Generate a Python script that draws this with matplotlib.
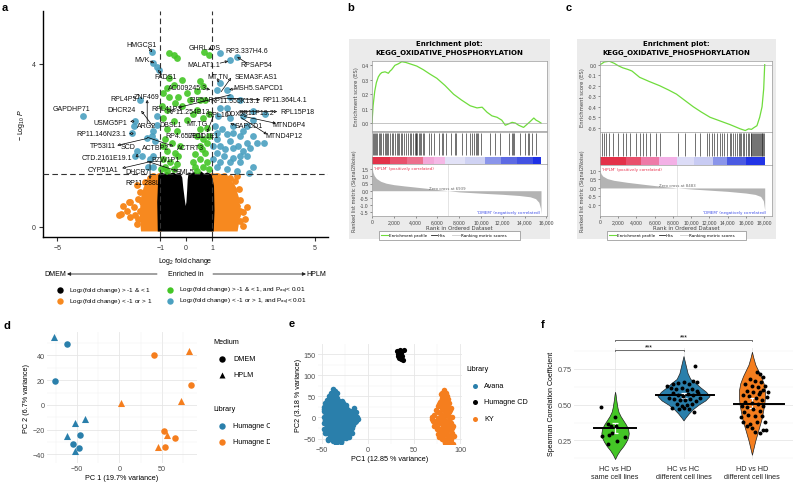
import matplotlib
matplotlib.use('Agg')
import matplotlib.pyplot as plt
from matplotlib.patches import Rectangle

plt.rcParams['font.family'] = ['Liberation Sans', 'DejaVu Sans']
plt.rcParams['mathtext.fontset'] = 'custom'
plt.rcParams['mathtext.rm'] = 'Liberation Sans'
plt.rcParams['mathtext.it'] = 'Liberation Sans:italic'

W, H = 794, 485
fig = plt.figure(figsize=(W / 100, H / 100), dpi=100)


def px_axes(x0, y0, x1, y1, **kw):
    return fig.add_axes([x0 / W, 1 - y1 / H, (x1 - x0) / W, (y1 - y0) / H], **kw)


# ---------------- panel a : volcano ----------------
black_x = [-1.06, -1.08, -1.04, -0.95, -0.85, -0.75, -0.62, -0.5, -0.38, -0.26, -0.19, -0.15, -0.1, -0.05,
           0.0, 0.05, 0.08, 0.1, 0.13, 0.2, 0.32, 0.45, 0.58, 0.7, 0.82, 0.95, 1.04, 1.06, 1.03]
black_y = [-0.09, 0.6, 1.26, 1.31, 1.27, 1.32, 1.28, 1.31, 1.26, 1.3, 1.2, 0.95, 0.7, 0.48,
           0.42, 0.6, 0.9, 1.15, 1.3, 1.27, 1.32, 1.28, 1.33, 1.27, 1.31, 1.27, 1.0, 0.4, -0.09]

orange_core_l_x = [-1.0, -1.7, -1.75, -1.7, -1.6, -1.45, -1.2, -1.0]
orange_core_l_y = [-0.08, -0.08, 0.3, 0.7, 0.95, 1.15, 1.25, 1.28]
orange_core_r_x = [1.0, 1.95, 2.05, 2.0, 1.85, 1.6, 1.3, 1.0]
orange_core_r_y = [-0.08, -0.08, 0.3, 0.7, 1.0, 1.2, 1.27, 1.28]

orange_x = [-2.62, -2.53, -2.17, -1.91, -1.78, -1.59, -1.46, -1.40, -1.27, -1.20, -1.65, -1.98, -2.30, -1.52,
            -1.33, -1.14, -1.72, -1.46, -1.20, -1.14, -1.78, -2.04, -2.23, -1.46, -1.59, -1.07, -1.40, -1.91,
            -2.17, -1.85, -1.27, -2.43, -1.85, -1.40, -1.14, -1.46,
            2.22, 2.35, 2.03, 1.90, 1.71, 1.45, 1.19, 1.64, 1.38, 1.19, 1.83, 1.58, 1.25, 1.96, 1.71, 1.38,
            1.12, 1.58, 1.12, 1.12, 1.45, 2.09, 1.77, 1.38, 1.96, 2.09, 2.28, 2.22, 1.83, 1.06, 1.58, 1.83,
            1.96, 1.71, 2.09]
orange_y = [0.30, 0.32, 0.62, 1.02, 0.40, 0.76, 1.09, 0.15, 1.25, 0.60, 0.11, 0.28, 0.40, 0.48,
            0.93, 1.09, 0.60, 0.32, 0.03, 0.28, 0.85, 0.48, 0.60, 0.03, 1.09, 1.25, 1.21, 0.07,
            0.24, 0.20, 0.76, 0.52, 0.69, 0.69, 0.93, 0.95,
            0.36, 0.48, 0.93, 1.13, 1.21, 1.25, 1.25, 1.01, 0.85, 1.01, 0.69, 0.60, 0.52, 0.28, 0.20, 0.11,
            0.03, 0.03, 0.69, 0.28, 0.36, 0.65, 0.44, 1.09, 0.52, 0.15, 0.20, 0.03, 0.03, 0.93, 0.85, 0.93,
            1.25, 0.77, 0.40]

green_x = [-0.68, -0.47, -0.36, 0.70, 0.87, 0.54, 0.67, -0.68, -0.49, -0.17, -0.88, -0.68, -0.30, 0.03,
           0.41, 0.74, -0.43, -0.17, 0.41, -0.75, -0.88, -0.49, 0.03, 0.67, 0.87, -0.75, -0.36, 0.54, 0.80,
           0.41, -0.81, -0.56, -0.22, 0.54, 0.80, -0.75, -0.43, 0.35, 0.74, -0.88, -0.62, -0.36, 0.28, 0.54,
           0.80, -0.81, -0.49, 0.35, 0.67, 0.87, -0.96, -0.75, 0.41, -0.94, -0.75, 0.54, 0.16, 0.28, -0.88,
           0.87, 0.67, -0.30, 0.60]
green_y = [4.26, 4.22, 4.14, 4.30, 4.22, 3.57, 3.45, 3.65, 3.49, 3.61, 3.28, 3.20, 3.20, 3.28,
           3.33, 3.12, 3.04, 2.96, 2.88, 2.88, 2.67, 2.59, 2.63, 2.67, 2.76, 2.39, 2.35, 2.39, 2.43,
           2.23, 2.15, 2.07, 1.98, 1.98, 2.07, 1.86, 1.82, 1.78, 1.82, 1.66, 1.58, 1.54, 1.58, 1.66,
           1.58, 1.46, 1.41, 1.46, 1.46, 1.41, 1.41, 1.37, 1.37, 2.96, 3.41, 3.12, 3.12, 2.76, 1.98,
           2.23, 2.15, 1.75, 1.90]

blue_x = [-1.33, -1.27, -1.07, -1.14, -4.0, -1.78, -1.98, -2.04, -2.11, -1.91, -1.98, -1.40, -1.27, -1.52,
          -1.33, -1.20, -1.14, -1.14, -1.27, -1.46, -1.72, -1.27,
          1.32, 1.71, 1.96, 1.32, 1.19, 1.58, 1.71, 2.09, 2.61, 3.06, 1.58, 1.32, 1.25, 1.71, 2.22, 2.61,
          2.35, 1.83, 1.38, 1.19, 1.58, 2.09, 2.61, 2.74, 3.0, 1.19, 1.71, 2.35, 1.32, 1.83, 2.22, 1.19,
          1.45, 1.83, 2.35, 1.32, 1.71, 2.09, 2.61, 1.19, 1.58, 1.96, 2.42, 1.06, 1.06, 1.12, 2.02, 1.51,
          1.83, 2.22, 2.48, 2.09]
blue_y = [4.30, 4.03, 3.85, 3.93, 2.73, 3.11, 2.59, 2.47, 2.31, 1.86, 1.74, 1.66, 1.74, 2.19,
          2.23, 2.11, 2.72, 2.51, 2.35, 1.46, 1.74, 1.46,
          4.26, 4.10, 4.16, 3.53, 3.37, 3.37, 3.20, 3.12, 2.84, 2.76, 2.92, 2.92, 2.72, 2.67, 2.72, 2.63,
          2.47, 2.47, 2.39, 2.31, 2.27, 2.23, 2.23, 2.07, 2.07, 2.15, 2.11, 2.07, 1.98, 1.94, 1.86, 1.82,
          1.74, 1.70, 1.74, 1.58, 1.58, 1.58, 1.46, 1.46, 1.41, 1.37, 1.33, 1.98, 1.66, 2.47, 1.98, 1.90,
          2.31, 2.35, 1.94, 1.74]

gene_labels = ['HMGCS1', 'MVK', 'FADS1', 'GHRL.OS', 'RP3.337H4.6', 'MALAT1.1', 'RPSAP54', 'MT.TN',
               'SEMA3F.AS1', 'AC009245.3', 'MSH5.SAPCD1', 'EIF5AP', 'RP11.555K13.1', 'RP11.364L4.1',
               'RPL15P18', 'RPL10', 'DDX23', 'RP11P19.2', 'MTND6P4', 'SAPCD1', 'MTND4P12', 'MT.TG',
               'RP4.657E11', 'LPCD1E1', 'ACTRT3', 'ACTBP2', 'SCD', 'TP53I11', 'DBSL1', 'RP11.254B13',
               'RPL41P3', 'ARG2', 'DHCR24', 'USMG5P1', 'RP11.146N23.1', 'CTD.2161E19.1', 'CYP51A1',
               'DHCR7', 'BZW1P1', 'EML5', 'RPL4P5', 'ZNF469', 'GAPDHP71']
gene_x = [-1.72, -1.72, -0.81, 0.70, 2.36, 0.70, 2.71, 1.23, 2.71, 0.07, 2.80, 0.58, 1.90, 3.84,
          4.33, 1.24, 1.97, 2.70, 4.0, 2.41, 3.81, 0.44, -0.04, 0.67, 0.16, -1.20, -2.24, -3.21,
          -0.62, 0.07, -0.75, -1.52, -2.49, -2.95, -3.27, -3.07, -3.21, -1.89, -0.81, -0.04, -2.43,
          -1.52, -4.43]
gene_y = [4.48, 4.11, 3.68, 4.40, 4.34, 3.99, 3.98, 3.69, 3.69, 3.41, 3.41, 3.12, 3.10, 3.12,
          2.82, 2.77, 2.78, 2.80, 2.51, 2.49, 2.24, 2.53, 2.24, 2.24, 1.96, 1.96, 1.98, 2.0,
          2.51, 2.82, 2.90, 2.49, 2.88, 2.57, 2.29, 1.70, 1.40, 1.37, 1.66, 1.37, 3.14, 3.20, 2.90]

# label segments: start -> arrow head
seg_x0 = [-1.47, -1.40, -0.93, 0.89, 1.32, 2.36, 1.24, 1.36, 0.78, 1.94, 1.12, 2.09, 2.25, 2.13, 1.94,
          1.71, -1.28, -2.02, -2.05, -1.51, -1.51, -1.90, -1.32, -1.40, -1.51, -1.51, 1.05]
seg_y0 = [4.41, 4.07, 3.73, 4.39, 4.02, 4.02, 3.63, 3.32, 3.39, 3.39, 3.17, 2.83, 2.71, 2.68, 2.49,
          3.24, 2.46, 2.59, 2.29, 2.17, 2.20, 1.71, 1.61, 1.61, 1.61, 2.54, 2.71]
seg_x1 = [-1.32, -1.24, -1.09, 1.01, 1.63, 1.98, 1.24, 1.74, 0.93, 1.67, 2.87, 3.53, 3.49, 3.14, 1.71,
          -0.31, -1.74, -2.17, -2.21, -2.67, -0.50, -1.90, -2.48, -1.40, -0.35, -1.51, 0.81]
seg_y1 = [4.29, 4.02, 3.85, 4.34, 4.07, 4.17, 3.54, 3.66, 3.37, 3.37, 3.12, 2.83, 2.54, 2.27, 2.54,
          2.93, 2.85, 2.59, 2.29, 2.00, 1.98, 1.80, 1.44, 1.17, 1.37, 3.12, 2.32]

c_black, c_orange, c_green, c_blue = 'black', '#f7891f', '#44c626', '#4aa0c0'

ax = px_axes(43, 12, 328, 238)
ax.fill(orange_core_l_x, orange_core_l_y, color=c_orange, lw=2, zorder=2)
ax.fill(orange_core_r_x, orange_core_r_y, color=c_orange, lw=2, zorder=2)
ax.scatter(orange_x, orange_y, s=24, color=c_orange, lw=0, zorder=2)
ax.text(-1.5, 1.10, 'RP11.288L9.1', fontsize=5, ha='center', va='center', zorder=2.6)
ax.fill(black_x, black_y, color=c_black, ec='black', lw=1.5, zorder=3)
ax.scatter(green_x, green_y, s=24, color=c_green, lw=0, alpha=0.9, zorder=4)
ax.scatter(blue_x, blue_y, s=24, color=c_blue, lw=0, alpha=0.9, zorder=4)
ax.axvline(-1, color='#333333', lw=0.8, ls=(0, (5, 3)), zorder=5)
ax.axvline(1, color='#333333', lw=0.8, ls=(0, (5, 3)), zorder=5)
ax.axhline(1.3, color='#333333', lw=0.8, ls=(0, (5, 3)), zorder=5)
for x0, y0, x1, y1 in zip(seg_x0, seg_y0, seg_x1, seg_y1):
    ax.annotate('', xy=(x1, y1), xytext=(x0, y0), zorder=6,
                arrowprops=dict(arrowstyle='-|>', lw=0.5, color='black', fc='white',
                                shrinkA=0, shrinkB=0, mutation_scale=4))
for name, x, y in zip(gene_labels, gene_x, gene_y):
    ax.text(x, y, name, fontsize=5, ha='center', va='center', color='#111111', zorder=7)
ax.set_xlim(-5.55, 5.5)
ax.set_ylim(-0.25, 5.3)
ax.set_xticks([-5, -1, 0, 1, 5])
ax.set_yticks([0, 4])
ax.tick_params(labelsize=5, length=3, width=0.8, colors='#333333', pad=2)
for s in ['top', 'right']:
    ax.spines[s].set_visible(False)
for s in ['left', 'bottom']:
    ax.spines[s].set_linewidth(1.0)
ax.set_xlabel('Log$_2$ fold change', fontsize=5, labelpad=3)
ax.set_ylabel('$-$ Log$_{10}$ $P$', fontsize=5, labelpad=4)

# ---------------- panels b, c : GSEA ----------------
b_es_rank = [0, 100, 250, 400, 580, 750, 900, 1200, 1500, 1650, 1800, 2100, 2400, 2730, 3100, 3500, 4100,
             4700, 5300, 5950, 6700, 7480, 8200, 9000, 9630, 10100, 10550, 11000, 11470, 11900, 12230,
             12550, 12850, 13150, 13450, 13900, 14200, 14500, 14840, 15050, 15300, 15500]
b_es = [0.0, 0.12, 0.22, 0.28, 0.32, 0.34, 0.35, 0.355, 0.345, 0.36, 0.37, 0.40, 0.41, 0.425, 0.42, 0.41,
        0.395, 0.37, 0.34, 0.31, 0.26, 0.20, 0.16, 0.12, 0.105, 0.11, 0.075, 0.05, 0.04, 0.02, -0.015,
        -0.005, 0.005, 0.0, -0.015, -0.03, -0.01, 0.01, 0.035, 0.02, 0.01, 0.0]
b_hits = [60, 150, 250, 380, 450, 600, 700, 850, 1000, 1150, 1250, 1400, 1500, 1650, 1800, 1950, 2100,
          2250, 2400, 2500, 2650, 2750, 2900, 3100, 3300, 3450, 3600, 3750, 3900, 4000, 4050, 4150, 4300,
          4400, 4500, 4650, 4750, 5200, 5400, 5700, 6100, 6400, 6500, 6800, 7200, 7600, 7700, 8300, 8600,
          9000, 9200, 9400, 9500, 9600, 9700, 10000, 10800, 11300, 11700, 12600, 12800, 12900, 13000,
          13600, 14000, 14300, 14400, 14700, 15000]
b_metric_rank = [0, 80, 200, 400, 800, 1300, 2000, 3000, 4000, 5000, 6000, 6939, 8000, 10000, 12000,
                 13500, 14500, 15000, 15300, 15450, 15500]
b_metric = [1.7, 1.3, 1.05, 0.85, 0.65, 0.52, 0.42, 0.33, 0.25, 0.17, 0.08, 0.0, -0.08, -0.17, -0.25,
            -0.33, -0.42, -0.55, -0.8, -1.2, -1.6]
b_bar_edges = [0, 1650, 3200, 4700, 5700, 6700, 8500, 10400, 11800, 13300, 14800, 15500]
b_bar_colors = ['#e33149', '#e8506c', '#ec6f8c', '#f3a7d8', '#f5b8e6', '#e2e2f7', '#cfd2f3', '#8a95ea',
                '#5d6ae3', '#4252e2', '#1f31e6']

c_es_rank = [0, 200, 480, 1030, 1580, 2000, 2500, 3050, 3500, 4340, 5400, 6540, 7500, 8380, 9300, 10220,
             11100, 12060, 13160, 14260, 15370, 15920, 16290, 16600, 16840, 17200, 17500, 17760, 17940,
             18050]
c_es = [0.0, 0.01, 0.026, 0.033, 0.012, -0.01, -0.03, -0.045, -0.06, -0.12, -0.16, -0.20, -0.24, -0.28,
        -0.34, -0.40, -0.45, -0.50, -0.535, -0.57, -0.61, -0.626, -0.61, -0.615, -0.60, -0.58, -0.50, -0.40,
        -0.23, 0.0]
c_hits = [220, 480, 660, 1030, 1400, 1950, 2500, 2800, 3240, 3970, 4340, 4700, 5000, 5440, 6170, 6540,
          8570, 9300, 10400, 10960, 11700, 12000, 12300, 12500, 12800, 13100, 13400, 13600, 13900, 14200,
          14400, 14600, 14800, 15000, 15200, 15300, 15500, 15700, 15800, 16000, 16200, 16300, 16500,
          16600, 16700, 16800, 16900, 17000, 17100, 17200, 17300, 17400, 17500, 17600, 17700, 17800,
          17900, 18000]
c_metric_rank = [0, 100, 300, 800, 1500, 3000, 5000, 7000, 8483, 10000, 12000, 14000, 16000, 17000,
                 17600, 17900, 18050]
c_metric = [1.05, 0.85, 0.7, 0.55, 0.45, 0.33, 0.2, 0.08, 0.0, -0.06, -0.13, -0.2, -0.3, -0.38, -0.5,
            -0.75, -1.3]
c_bar_edges = [0, 2900, 4500, 6500, 8400, 10300, 12400, 13900, 16000, 18100]
c_bar_colors = ['#e33149', '#e8506c', '#ee7aa8', '#f3b0e6', '#dcdcf7', '#c8cbf3', '#8a95ea', '#4a5ae2',
                '#2234e6']

bg = fig.add_axes([0, 0, 1, 1], zorder=-5)
bg.set_xlim(0, W)
bg.set_ylim(H, 0)
bg.axis('off')

ov = fig.add_axes([0, 0, 1, 1], zorder=20)
ov.set_xlim(0, W)
ov.set_ylim(H, 0)
ov.axis('off')
ov.patch.set_alpha(0)

gsea_font = ['DejaVu Sans']


def gsea_panel(box, es_box, hit_box, met_box, es_rank, es, hits, m_rank, m, edges, colors,
               xmax, es_lim, es_ticks, m_lim, m_ticks, x_ticks, zero_rank, cross_text):
    bx0, by0, bx1, by1 = box
    bg.add_patch(Rectangle((bx0, by0), bx1 - bx0, by1 - by0, color='#ebebeb', lw=0))
    cx = (bx0 + bx1) / 2
    ov.text(cx, 44, 'Enrichment plot:', fontsize=5.0, fontweight='bold', ha='center', va='center',
            family=gsea_font)
    ov.text(cx, 53, 'KEGG_OXIDATIVE_PHOSPHORYLATION', fontsize=5.0, fontweight='bold', ha='center',
            va='center', family=gsea_font)

    a1 = px_axes(*es_box)
    a1.plot(es_rank, es, color='#6fdc3c', lw=0.9)
    a1.axhline(0, color='#9a9a9a', lw=0.4)
    a1.set_xlim(0, xmax)
    a1.set_ylim(*es_lim)
    a1.set_yticks(es_ticks)
    a1.set_yticklabels(['%.1f' % t for t in es_ticks])
    a1.set_xticks([])
    a1.tick_params(labelsize=3.6, length=1.5, width=0.4, pad=1, colors='#444444')
    for s in a1.spines.values():
        s.set_color('#9a9a9a')
        s.set_linewidth(0.5)
    a1.set_ylabel('Enrichment score (ES)', fontsize=3.8, labelpad=2, family=gsea_font, color='#444444')

    a2 = px_axes(*hit_box)
    a2.vlines(hits, 0.27, 0.97, color='#222222', lw=0.45)
    for i, col in enumerate(colors):
        a2.add_patch(Rectangle((edges[i], 0.0), edges[i + 1] - edges[i], 0.23, color=col, lw=0))
    a2.set_xlim(0, xmax)
    a2.set_ylim(0, 1)
    a2.set_xticks([])
    a2.set_yticks([])
    for s in a2.spines.values():
        s.set_color('#9a9a9a')
        s.set_linewidth(0.5)

    a3 = px_axes(*met_box)
    a3.fill_between(m_rank, m, 0, color='#b3b3b3', lw=0)
    a3.axvline(zero_rank, color='#cfcfcf', lw=0.4)
    a3.set_xlim(0, xmax)
    a3.set_ylim(*m_lim)
    a3.set_yticks(m_ticks)
    a3.set_yticklabels(['%.1f' % t for t in m_ticks])
    a3.set_xticks(x_ticks)
    a3.set_xticklabels(['{:,}'.format(t) for t in x_ticks])
    a3.tick_params(labelsize=3.6, length=1.5, width=0.4, pad=1, colors='#444444')
    for s in a3.spines.values():
        s.set_color('#9a9a9a')
        s.set_linewidth(0.5)
    a3.set_xlabel('Rank in Ordered Dataset', fontsize=3.9, labelpad=0.5, family=gsea_font, color='#444444')
    a3.set_ylabel('Ranked list metric (Signal2Noise)', fontsize=3.5, labelpad=2, family=gsea_font,
                  color='#444444')
    a3.text(0.01, 0.97, "'HPLM' (positively correlated)", transform=a3.transAxes, fontsize=3.0,
            color='#e8334f', va='top', family=gsea_font)
    a3.text(zero_rank, 0.03, cross_text, fontsize=2.8, color='#666666', ha='center', va='bottom',
            family=gsea_font)
    a3.text(0.6, 0.08, "'DMEM' (negatively correlated)", transform=a3.transAxes, fontsize=3.0,
            color='#4050e8', va='center', family=gsea_font)

    # legend box
    lx0, lx1, ly = bx0 + 30, bx1 - 30, 236
    bg.add_patch(Rectangle((lx0, ly - 4.5), lx1 - lx0, 9, fc='white', ec='#8a8a8a', lw=0.5))
    ov.plot([lx0 + 2, lx0 + 9], [ly, ly], color='#6fdc3c', lw=0.8)
    ov.text(lx0 + 10, ly, 'Enrichment profile', fontsize=3.0, va='center', family=gsea_font)
    ov.plot([lx0 + 52, lx0 + 58], [ly, ly], color='#222222', lw=0.6)
    ov.text(lx0 + 59, ly, 'Hits', fontsize=3.0, va='center', family=gsea_font)
    ov.plot([lx0 + 73, lx0 + 81], [ly, ly], color='#cccccc', lw=0.6)
    ov.text(lx0 + 82, ly, 'Ranking metric scores', fontsize=3.0, va='center', family=gsea_font)


gsea_panel((349, 40, 550, 240), (372, 62, 547, 132), (372, 133, 547, 165), (372, 165, 547, 217),
           b_es_rank, b_es, b_hits, b_metric_rank, b_metric, b_bar_edges, b_bar_colors,
           16050, (-0.055, 0.43), [0.0, 0.1, 0.2, 0.3, 0.4], (-1.75, 1.85),
           [1.5, 1.0, 0.5, 0.0, -0.5, -1.0, -1.5], list(range(0, 16001, 2000)), 6939, 'Zero cross at 6939')
gsea_panel((577, 40, 776, 240), (600, 62, 772, 133), (600, 133, 772, 166), (600, 166, 772, 217),
           c_es_rank, c_es, c_hits, c_metric_rank, c_metric, c_bar_edges, c_bar_colors,
           18850, (-0.64, 0.035), [0.0, -0.1, -0.2, -0.3, -0.4, -0.5, -0.6], (-1.65, 1.35),
           [1.0, 0.5, 0.0, -0.5, -1.0], list(range(0, 18001, 2000)), 8483, 'Zero cross at 8483')

# ---------------- volcano caption / legend ----------------
ov.text(55, 275, 'DMEM', fontsize=5, ha='center', va='center')
ov.annotate('', xy=(67, 275), xytext=(157, 275),
            arrowprops=dict(arrowstyle='-|>', lw=0.6, color='#222222', mutation_scale=5, shrinkA=0, shrinkB=0))
ov.text(186, 275, 'Enriched in', fontsize=5, ha='center', va='center')
ov.annotate('', xy=(306, 275), xytext=(213, 275),
            arrowprops=dict(arrowstyle='-|>', lw=0.6, color='#222222', mutation_scale=5, shrinkA=0, shrinkB=0))
ov.text(316, 275, 'HPLM', fontsize=5, ha='center', va='center')
legend_text = ['Log$_2$(fold change) > -1 & < 1', 'Log$_2$(fold change) > -1 & < 1, and P$_{adj}$< 0.01',
               'Log$_2$(fold change) < -1 or > 1', 'Log$_2$(fold change) < -1 or > 1, and P$_{adj}$< 0.01']
legend_cols = [c_black, c_green, c_orange, c_blue]
for i, (t, col) in enumerate(zip(legend_text, legend_cols)):
    lx = 60 if i % 2 == 0 else 170
    ly = 291 if i < 2 else 302
    ov.plot([lx], [ly], 'o', ms=4.6, color=col, mec='none')
    ov.text(lx + 9, ly, t, fontsize=4.6, va='center')

# ---------------- panel d : PCA ----------------
grid_major = '#e6e6e6'
grid_minor = '#f2f2f2'
c_blue2, c_orange2 = '#2a7fab', '#f57e1e'

d_circle_c_x = [-62, -76, -46, -55, -47]
d_circle_c_y = [49, 19, -24, -32, -35]
d_tri_c_x = [-77, -40, -52, -61, -52]
d_tri_c_y = [55, -11, -15, -25, -37]
d_circle_d_x = [40, 84, 52, 65, 53]
d_circle_d_y = [40, 16, -21, -27, -34]
d_tri_d_x = [82, 72, 2, 56, 45]
d_tri_d_y = [44, 3, 1.5, -24, -34]


def minimal(a, xmaj, xmin, ymaj, ymin):
    a.set_xticks(xmaj)
    a.set_xticks(xmin, minor=True)
    a.set_yticks(ymaj)
    a.set_yticks(ymin, minor=True)
    a.grid(True, which='major', color=grid_major, lw=0.6)
    a.grid(True, which='minor', color=grid_minor, lw=0.35)
    a.set_axisbelow(True)
    for s in a.spines.values():
        s.set_visible(False)
    a.tick_params(which='both', length=0, labelsize=5.2, colors='#4d4d4d', pad=1.5)


axd = px_axes(47, 333, 197, 464)
axd.scatter(d_circle_c_x, d_circle_c_y, s=22, color=c_blue2, marker='o', lw=0)
axd.scatter(d_tri_c_x, d_tri_c_y, s=26, color=c_blue2, marker='^', lw=0)
axd.scatter(d_circle_d_x, d_circle_d_y, s=22, color=c_orange2, marker='o', lw=0)
axd.scatter(d_tri_d_x, d_tri_d_y, s=26, color=c_orange2, marker='^', lw=0)
axd.set_xlim(-85, 91)
axd.set_ylim(-47, 59)
minimal(axd, [-50, 0, 50], [-75, -25, 25, 75], [-40, -20, 0, 20, 40], [-30, -10, 10, 30, 50])
axd.set_xlabel('PC 1 (19.7% variance)', fontsize=5.2, labelpad=1.5)
axd.set_ylabel('PC 2 (6.7% variance)', fontsize=5.2, labelpad=1.5)

legd = px_axes(205, 333, 270, 455)
legd.set_xlim(205, 270)
legd.set_ylim(455, 333)
legd.axis('off')
legd.text(213, 343, 'Medium', fontsize=5.2, va='center', clip_on=True)
legd.plot([222], [360], 'o', ms=4.6, color='black', mec='none')
legd.text(233, 360, 'DMEM', fontsize=5.2, va='center', clip_on=True)
legd.plot([222], [376], '^', ms=5, color='black', mec='none')
legd.text(233, 376, 'HPLM', fontsize=5.2, va='center', clip_on=True)
legd.text(213, 410, 'Library', fontsize=5.2, va='center', clip_on=True)
legd.plot([222], [427], 'o', ms=4.6, color=c_blue2, mec='none')
legd.text(233, 427, 'Humagne C', fontsize=5.2, va='center', clip_on=True)
legd.plot([222], [443], 'o', ms=4.6, color=c_orange2, mec='none')
legd.text(233, 443, 'Humagne D', fontsize=5.2, va='center', clip_on=True)

# ---------------- panel e : PCA of libraries ----------------
avana_x = [-38, -36, -40, -34, -42, -38, -33, -44, -40, -36, -30, -46, -42, -37, -32, -27, -24, -48, -44,
           -40, -35, -30, -26, -22, -19, -46, -42, -37, -32, -27, -22, -18, -14, -47, -44, -40, -35, -30,
           -25, -20, -15, -12, -46, -42, -37, -32, -27, -22, -17, -13, -44, -40, -35, -30, -25, -20, -16,
           -47, -42, -38, -33, -28, -23, -19, -45, -40, -36, -31, -26, -21, -17, -43, -38, -33, -28, -24,
           -34, -29, -20, -36, -37, -43, -29, -46, -12, -15, -28, -33,
           -41, -35, -31, -39, -34, -28, -24, -43, -47, -38, -33, -28, -23, -17, -13, -45, -40, -35, -30,
           -25, -20, -16, -11, -47, -43, -38, -33, -28, -23, -18, -14, -48, -43, -38, -33, -28, -23, -18,
           -45, -40, -35, -30, -25, -21, -17, -43, -38, -33, -28, -23, -19, -41, -36, -31, -26, -22, -31,
           -38]
avana_y = [68, 62, 58, 55, 50, 48, 45, 42, 40, 38, 36, 34, 30, 28, 30, 33, 30, 25, 22,
           20, 20, 22, 20, 18, 16, 14, 12, 10, 12, 10, 8, 10, 6, 16, 4, 2, 0, 2,
           0, -2, -2, 2, -6, -8, -10, -8, -10, -12, -10, -8, -18, -20, -18, -20, -22, -20, -18,
           -28, -30, -28, -30, -32, -30, -28, -38, -40, -38, -40, -42, -40, -36, -50, -48, -50, -52, -48,
           -60, -58, -46, -55, -52, -53, -59, -37, -4, 22, 40, 58,
           46, 44, 40, 34, 33, 26, 24, 26, 20, 16, 16, 15, 13, 14, 12, 9, 7, 5, 7,
           5, 4, 5, -3, 0, -2, -4, -4, -5, -6, -5, -12, -14, -13, -14, -14, -15, -16, -14,
           -24, -25, -24, -25, -26, -24, -25, -34, -34, -35, -36, -35, -33, -45, -44, -45, -46, -44, -53,
           -56]
ky_x = [82, 85, 79, 86, 80, 84, 78, 88, 82, 76, 86, 90, 80, 74, 84, 88, 78, 72, 82, 87, 91, 70, 76, 83,
        88, 71, 79, 85, 90, 73, 81, 87, 76, 84, 90, 78, 85, 91, 76, 82, 88, 80, 86, 90, 84, 92, 77, 69,
        92, 93, 86, 80, 75, 81,
        80, 83, 87, 79, 82, 77, 85, 80, 89, 83, 76, 86, 79, 74, 82, 89, 77, 84, 91, 72, 80, 87, 83, 79,
        86, 90, 82, 87, 79]
ky_y = [64, 58, 55, 50, 45, 40, 36, 34, 30, 28, 25, 22, 20, 18, 15, 12, 10, 6, 5, 3, 0, 0, -2, -4,
        -6, -8, -10, -12, -14, -16, -18, -20, -24, -26, -28, -32, -34, -36, -40, -42, -45, -50, -52, -58,
        -60, -62, -46, -4, -20, -44, 8, -30, -28, 52,
        58, 48, 44, 40, 36, 32, 28, 25, 18, 19, 14, 8, 2, -8, -8, -10, -14, -16, -24, -20, -26, -30, -38, -36,
        -40, -50, -54, -62, -44]
hcd_x = [32, 34, 36, 33, 35, 37, 34, 36, 38, 39, 33, 35]
hcd_y = [157, 155, 152, 150, 148, 145, 142, 139, 137, 160, 145, 160]

axe = px_axes(318, 345, 462, 445)
axe.scatter(avana_x, avana_y, s=16, color=c_blue2, lw=0)
axe.scatter(ky_x, ky_y, s=16, color=c_orange2, lw=0)
axe.scatter(hcd_x, hcd_y, s=14, color='black', lw=0)
axe.set_xlim(-54, 102)
axe.set_ylim(-63, 174)
minimal(axe, [-50, 0, 50, 100], [-25, 25, 75], [-50, 0, 50, 100, 150], [-25, 25, 75, 125])
axe.set_xlabel('PC1 (12.85 % variance)', fontsize=5.2, labelpad=1.5)
axe.set_ylabel('PC2 (3.18 % variance)', fontsize=5.2, labelpad=1.5)
ov.text(466, 370, 'Library', fontsize=5.2, va='center')
for yy, col, name in [(387, c_blue2, 'Avana'), (403, 'black', 'Humagne CD'), (420, c_orange2, 'KY')]:
    ov.plot([475], [yy], 'o', ms=3.6, color=col, mec='none')
    ov.text(484, yy, name, fontsize=5.2, va='center')

# ---------------- panel f : violins ----------------
f_groups = ['HC vs HD\nsame cell lines', 'HC vs HC\ndifferent cell lines', 'HD vs HD\ndifferent cell lines']
f_colors = ['#44c626', '#2a7fab', '#f57e1e']
v1_y = [0.12, 0.15, 0.18, 0.21, 0.24, 0.27, 0.30, 0.33, 0.36, 0.39, 0.42, 0.45, 0.48, 0.51, 0.54, 0.57, 0.59]
v1_w = [0, 0.03, 0.07, 0.12, 0.16, 0.19, 0.20, 0.19, 0.16, 0.12, 0.08, 0.05, 0.035, 0.025, 0.015, 0.008, 0]
v2_y = [0.39, 0.41, 0.44, 0.47, 0.50, 0.53, 0.56, 0.59, 0.62, 0.65, 0.68, 0.72, 0.76, 0.80, 0.84]
v2_w = [0, 0.03, 0.08, 0.14, 0.22, 0.32, 0.38, 0.33, 0.25, 0.18, 0.10, 0.06, 0.04, 0.02, 0]
v3_y = [0.15, 0.20, 0.25, 0.30, 0.35, 0.40, 0.45, 0.50, 0.55, 0.60, 0.65, 0.70, 0.74, 0.78, 0.83, 0.87]
v3_w = [0, 0.025, 0.05, 0.08, 0.11, 0.14, 0.16, 0.18, 0.19, 0.19, 0.17, 0.13, 0.09, 0.05, 0.02, 0]
f_center = [0.335, 0.565, 0.508]
f_bar_left = [0.69, 1.60, 2.74]
f_bar_right = [1.31, 2.45, 3.47]
f_err_low = [0.30, 0.545, 0.475]
f_err_high = [0.37, 0.58, 0.545]
f_err_mid = [0.335, 0.562, 0.51]
f1_x = [0.80, 1.00, 0.89, 0.94, 1.01, 0.81, 0.91, 0.96, 1.15, 1.03, 0.90]
f1_y = [0.482, 0.412, 0.365, 0.349, 0.348, 0.284, 0.291, 0.303, 0.277, 0.249, 0.227]
f2_x = [2.168, 1.852, 1.925, 2.012, 2.080, 1.813, 1.886, 1.973, 2.046, 2.119, 2.192, 1.852, 1.925, 1.988,
        2.071, 2.144, 2.217, 1.793, 1.866, 1.949, 2.022, 2.095, 2.178, 1.900, 1.973, 2.046, 2.129, 1.827,
        1.934, 2.007, 2.085, 2.153, 2.241, 2.192, 1.764, 2.134]
f2_y = [0.768, 0.645, 0.652, 0.661, 0.645, 0.619, 0.610, 0.614, 0.605, 0.610, 0.598, 0.579, 0.568, 0.563,
        0.572, 0.568, 0.582, 0.544, 0.540, 0.533, 0.535, 0.540, 0.528, 0.505, 0.493, 0.498, 0.502, 0.479,
        0.470, 0.477, 0.470, 0.451, 0.544, 0.656, 0.628, 0.668]
f3_x = [3.068, 3.117, 3.165, 2.971, 3.044, 3.127, 3.190, 2.898, 2.995, 3.092, 3.165, 2.922, 3.019, 3.107,
        2.873, 2.961, 3.058, 3.141, 3.214, 2.898, 2.995, 3.088, 3.165, 2.922, 3.019, 3.117, 2.835, 2.946,
        3.044, 3.141, 2.873, 2.971, 3.068, 3.165, 3.204, 2.995, 3.117, 2.922, 3.044, 2.888, 3.238, 3.190,
        2.849, 3.117]
f3_y = [0.726, 0.712, 0.691, 0.679, 0.668, 0.656, 0.633, 0.645, 0.628, 0.621, 0.605, 0.598, 0.586, 0.575,
        0.568, 0.558, 0.544, 0.535, 0.551, 0.521, 0.512, 0.505, 0.493, 0.481, 0.470, 0.458, 0.411, 0.428,
        0.423, 0.418, 0.376, 0.365, 0.381, 0.325, 0.325, 0.334, 0.302, 0.353, 0.307, 0.446, 0.586, 0.376,
        0.493, 0.586]

axf = px_axes(574, 348.5, 793, 460)
axf.set_xlim(0.4, 3.6)
axf.set_ylim(0.12, 0.9)
minimal(axf, [1, 2, 3], [], [0.25, 0.5, 0.75], [0.125, 0.375, 0.625, 0.875])
axf.grid(False, axis='x', which='minor')
for i, (vy, vw) in enumerate([(v1_y, v1_w), (v2_y, v2_w), (v3_y, v3_w)]):
    cx = i + 1
    axf.fill_betweenx(vy, [cx - w for w in vw], [cx + w for w in vw], color=f_colors[i],
                      ec='#222222', lw=0.5, zorder=2)
    axf.plot([f_bar_left[i], f_bar_right[i]], [f_center[i], f_center[i]], color='black', lw=1.4, zorder=3)
    axf.errorbar([cx], [f_err_mid[i]], yerr=[[f_err_mid[i] - f_err_low[i]], [f_err_high[i] - f_err_mid[i]]],
                 color='white', lw=0.9, capsize=2.5, capthick=0.9, zorder=4)
for xs, ys in [(f1_x, f1_y), (f2_x, f2_y), (f3_x, f3_y)]:
    axf.scatter(xs, ys, s=8, color='black', lw=0, zorder=5)
axf.set_xticklabels(f_groups, fontsize=5.2, color='#222222', linespacing=1.1)
axf.tick_params(axis='x', pad=4.5)
axf.set_ylabel('Spearman Correlation Coefficient', fontsize=5, labelpad=2)
axf.set_yticklabels(['0.25', '0.50', '0.75'])
# significance brackets
for x0, x1, yb, ys in [(1, 2, 0.885, 0.905), (1, 3, 0.955, 0.975)]:
    axf.plot([x0, x0, x1, x1], [yb - 0.012, yb, yb, yb - 0.012], color='#333333', lw=0.5, clip_on=False)
    axf.text((x0 + x1) / 2, ys, '***', fontsize=5, ha='center', va='center', clip_on=False)

# ---------------- panel letters ----------------
for letter, x, y in [('a', 2, 8), ('b', 347, 8), ('c', 566, 8), ('d', 3, 326), ('e', 289, 324), ('f', 541, 325)]:
    ov.text(x, y, letter, fontsize=8, fontweight='bold', va='center', ha='left')

fig.savefig('out.png', dpi=100, facecolor='white')
